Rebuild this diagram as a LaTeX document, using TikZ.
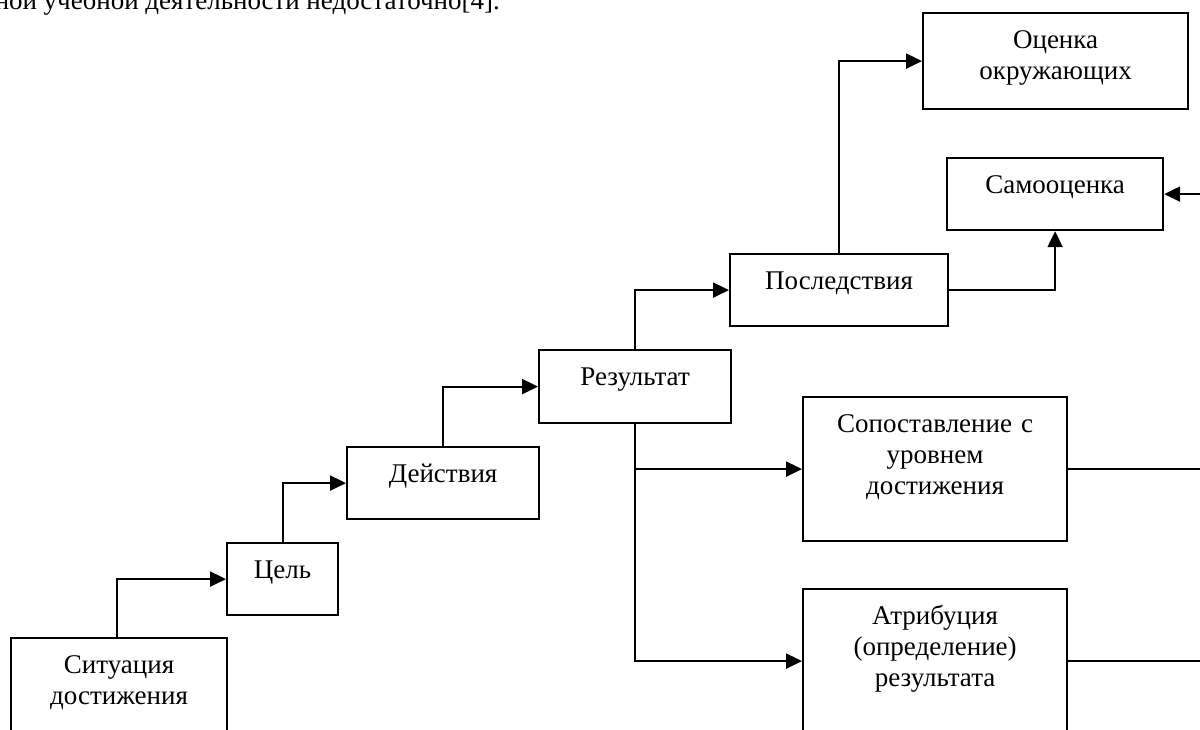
\documentclass[tikz,border=0pt]{standalone}
\usepackage{fontspec}
\setmainfont{Liberation Serif}
\usetikzlibrary{arrows.meta}
\tikzset{
  blok/.style 2 args={draw, line width=2.2pt, anchor=north west, inner sep=0pt,
    text width=#1, align=center, text height=35pt, text depth=#2},
  strelka/.style={line width=2.2pt, -{Triangle[length=16pt,width=15pt]}}
}
\begin{document}
\begin{tikzpicture}[x=1pt,y=-1pt,font=\fontsize{27}{31}\selectfont]
    \useasboundingbox (0,0) rectangle (1200,729);
    \clip (0,0) rectangle (1200,729);

    \node[anchor=base east, inner sep=0pt] (abzac) at (500,9)
      {\hbox to 505pt{ной учебной деятельности недостаточно[4].}};

    \node[blok={216pt}{85pt}] (sit) at (10,637) {Ситуация\\достижения};
    \node[blok={111pt}{37pt}] (cel) at (226,542) {Цель};
    \node[blok={192pt}{37pt}] (dejstv) at (346,446) {Действия};
    \node[blok={192pt}{38pt}] (rez) at (538,349) {Результат};
    \node[blok={218pt}{37pt}] (posl) at (729,253) {Последствия};
    \node[blok={265pt}{61pt}] (ocen) at (922,12) {Оценка\\окружающих};
    \node[blok={216pt}{37pt}] (samo) at (946,157) {Самооценка};
    \node[blok={264pt}{109pt}] (sopos) at (802,396)
      {Сопоставление с\\уровнем\\достижения};
    \node[blok={264pt}{109pt}] (atrib) at (802,588)
      {Атрибуция\\(определение)\\результата};
    \coordinate (spusk) at ([xshift=53pt]samo.east);

    \draw[strelka] (sit.north west) ++(107,0) |- (cel.west);
    \draw[strelka] (cel.north) |- (dejstv.west);
    \draw[strelka] (dejstv.north) |- (rez.west);
    \draw[strelka] (rez.north) |- (posl.west);
    \draw[strelka] (rez.south) |- (sopos.west);
    \draw[strelka] (rez.south) |- (atrib.west);
    \draw[strelka] (posl.north) |- (ocen.west);
    \draw[strelka] (posl.east) -| (samo.south);
    \draw[line width=2.2pt] (sopos.east) -- (sopos.east -| spusk);
    \draw[strelka] (atrib.east) -| (spusk) -- (samo.east);

\end{tikzpicture}
\end{document}
